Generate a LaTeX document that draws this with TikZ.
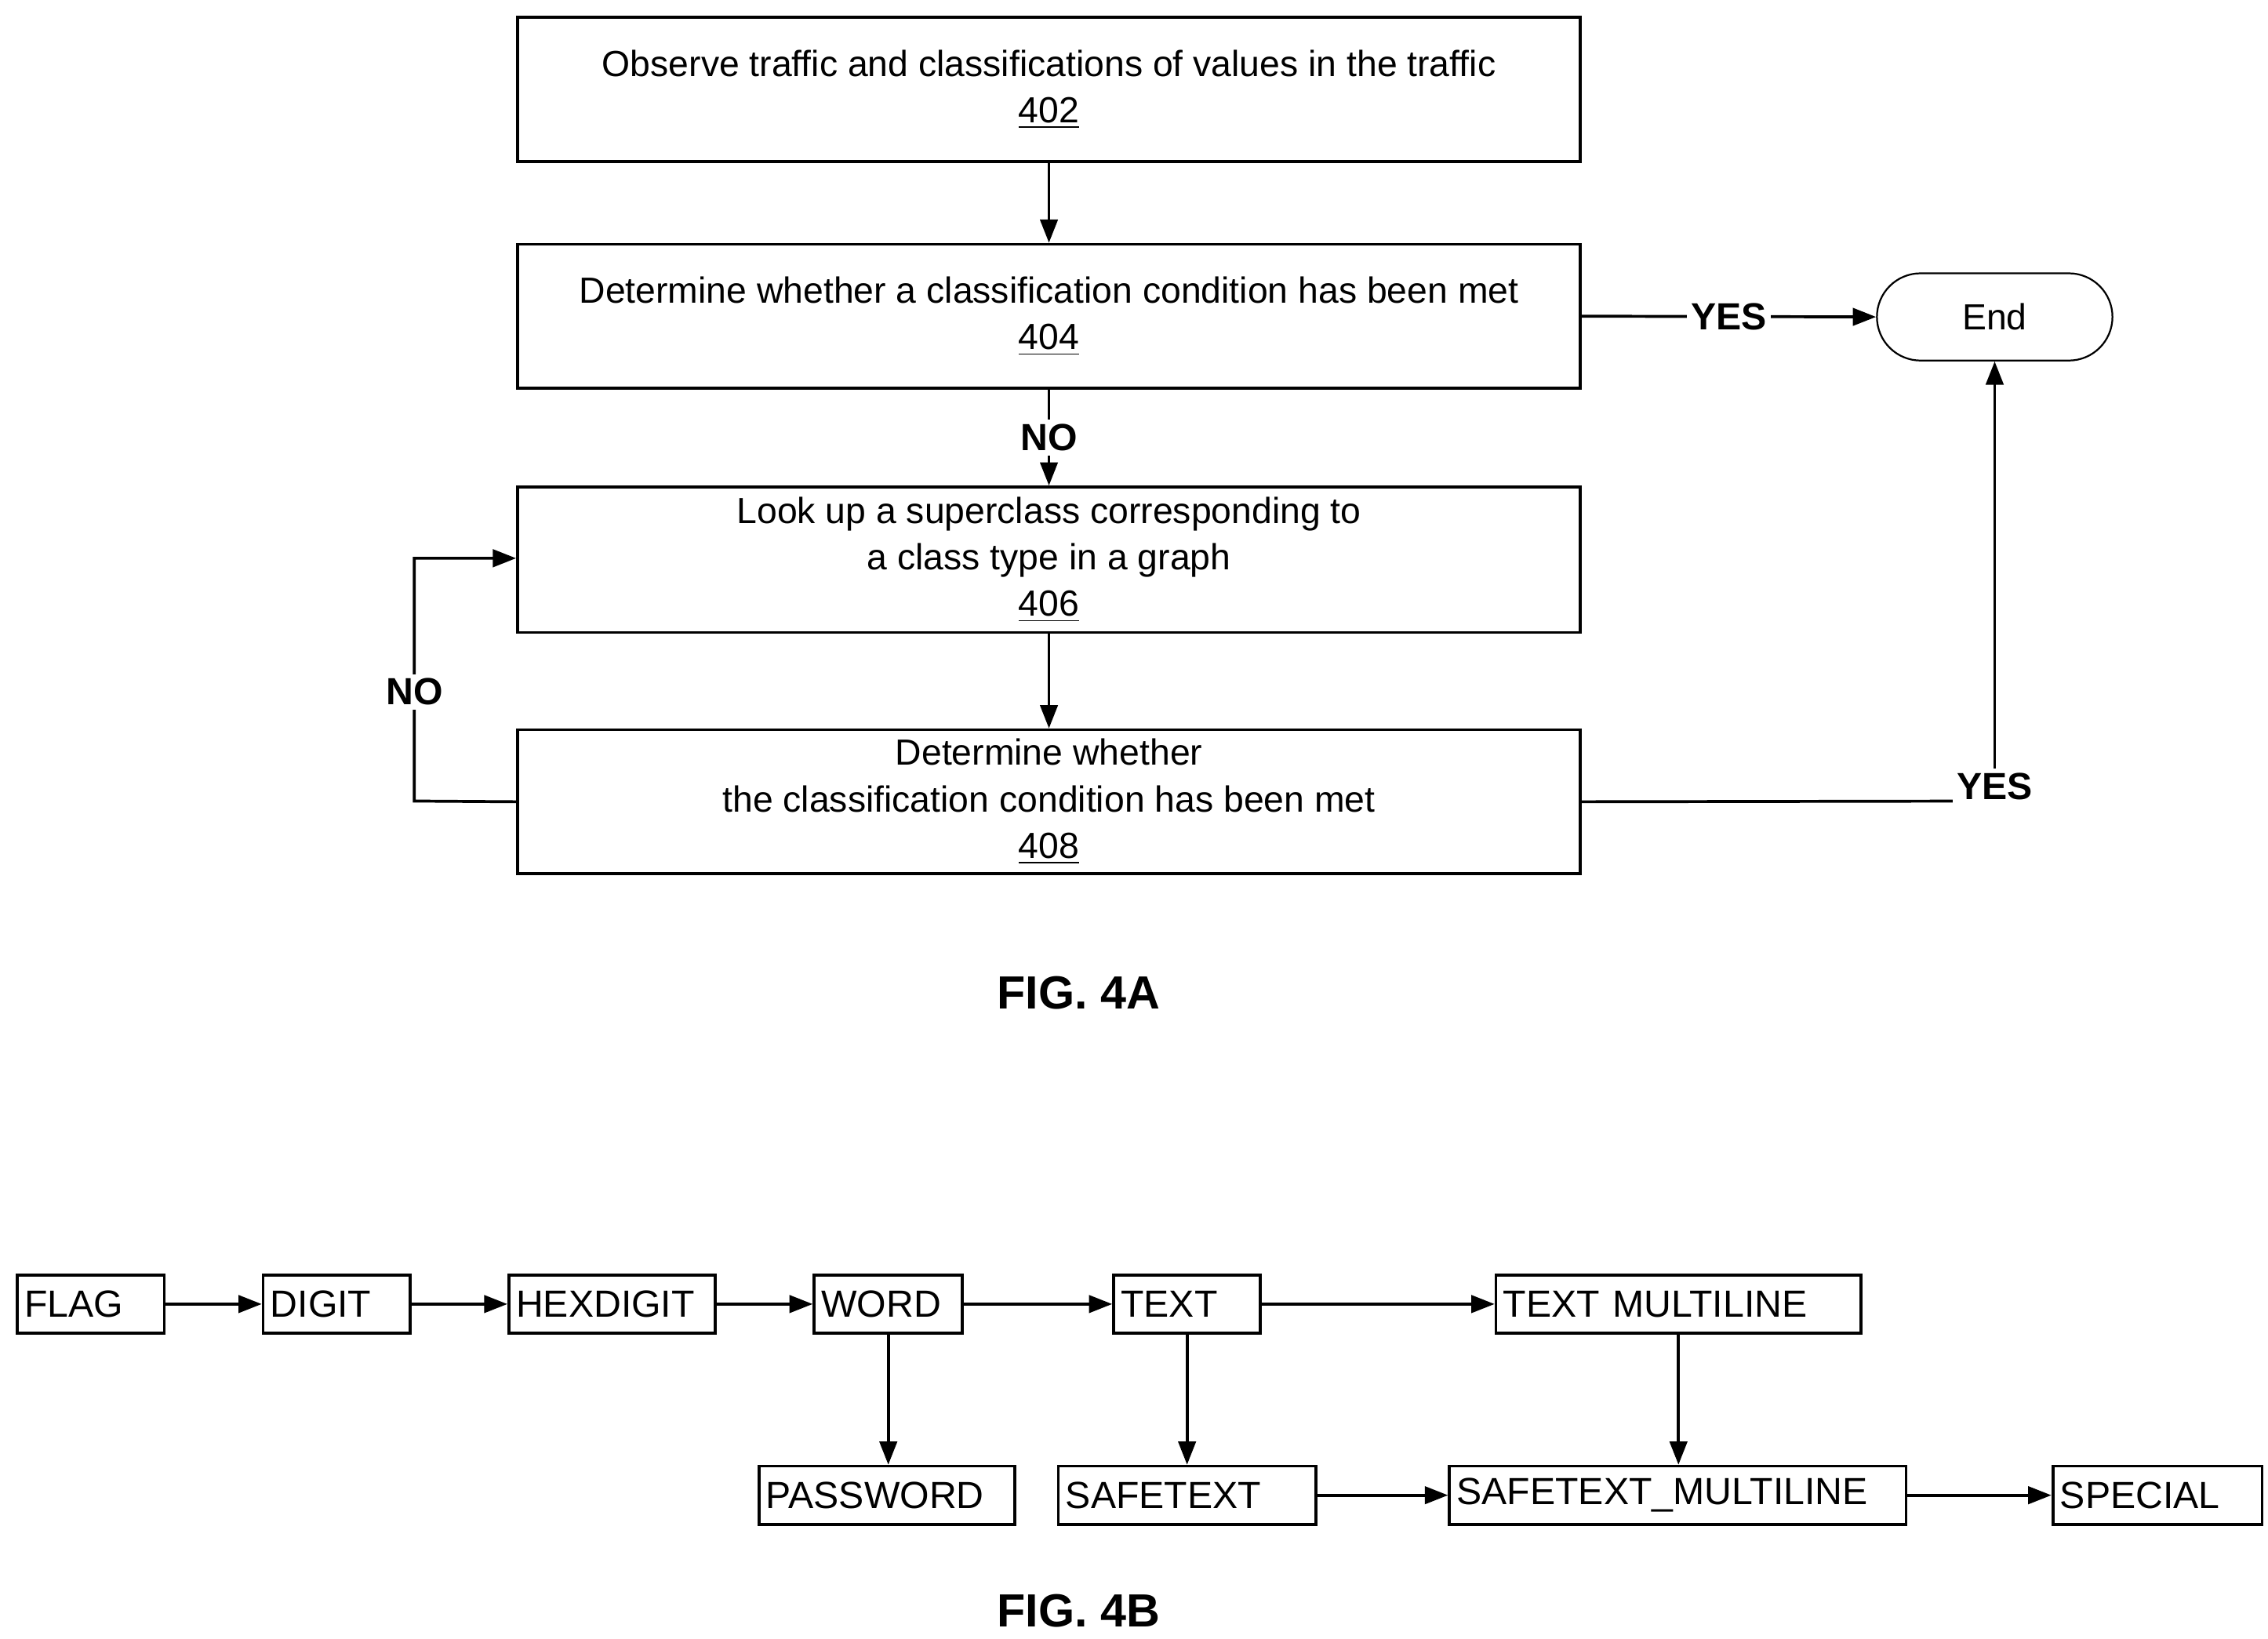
\documentclass[tikz,border=0pt]{standalone}
\usepackage{fontspec}
\setmainfont{Liberation Sans}
\usetikzlibrary{arrows.meta}
\begin{document}
\begin{tikzpicture}[x=0.5pt,y=-0.5pt,
  every node/.style={font=\fontsize{12.5}{16}\selectfont},
  box/.style={draw,line width=1pt,minimum height=49.5pt,minimum width=365.5pt,align=center,inner sep=2pt},
  sb/.style={draw,line width=1pt,minimum height=20pt,align=left,inner sep=2.5pt,font=\fontsize{13}{15}\selectfont},
  lab/.style={fill=white,font=\bfseries\fontsize{13}{15}\selectfont,inner sep=1.5pt},
  arr/.style={line width=1pt,-{Triangle[length=8pt,width=6pt]}},
  ln/.style={line width=1pt}]
\useasboundingbox (0,0) rectangle (1560,1127);
\node[box] (b402) at (721.5,61.5) {Observe traffic and classifications of values in the traffic\\\underline{402}};
\node[box] (b404) at (721.5,217.5) {Determine whether a classification condition has been met\\\underline{404}};
\node[box,minimum height=50pt] (b406) at (721.5,385) {Look up a superclass corresponding to\\a class type in a graph\\\underline{406}};
\node[box] (b408) at (721.5,551.5) {Determine whether\\the classification condition has been met\\\underline{408}};
\node[draw,line width=0.6pt,rounded corners=15pt,minimum width=81pt,minimum height=30pt] (end) at (1372,218) {End};
\draw[arr] (b402) -- (b404);
\draw[arr] (b404) -- node[lab]{NO} (b406);
\draw[arr] (b406) -- (b408);
\draw[arr] (b404.east) -- node[lab,pos=0.5]{YES} (end.west);
\coordinate (c1) at (1372,551);
\draw[ln] (b408.east) -- (c1);
\draw[arr] (c1) -- (end.south);
\node[lab] (y2) at (1372,541) {YES};
\coordinate (l1) at (285,551);
\coordinate (l2) at (285,384);
\draw[arr] (b408.west) -- (l1) -- node[lab,pos=0.45]{NO} (l2) -- (b406.west |- l2);
\node[font=\bfseries\fontsize{16}{19}\selectfont] (f4a) at (742,683) {FIG. 4A};

\node[sb,text width=45.5pt] (flag) at (62.5,897) {FLAG};
\node[sb,text width=45.5pt] (digit) at (231.5,897) {DIGIT};
\node[sb,text width=66pt] (hex) at (421,897) {HEXDIGIT};
\node[sb,text width=46pt] (word) at (611,897) {WORD};
\node[sb,text width=45.5pt] (text) at (816.5,897) {TEXT};
\node[sb,text width=120.5pt] (tml) at (1154.5,897) {TEXT MULTILINE};
\node[sb,text width=83pt] (pw) at (610,1028.5) {PASSWORD};
\node[sb,text width=83.5pt] (st) at (816.5,1028.5) {SAFETEXT};
\node[sb,text width=152pt] (stml) at (1154,1028.5) {SAFETEXT\_MULTILINE};
\node[sb,text width=67pt] (sp) at (1484,1028.5) {SPECIAL};
\draw[arr] (flag) -- (digit);
\draw[arr] (digit) -- (hex);
\draw[arr] (hex) -- (word);
\draw[arr] (word) -- (text);
\draw[arr] (text) -- (tml);
\draw[arr] (word.south) -- (word.south |- pw.north);
\draw[arr] (text.south) -- (text.south |- st.north);
\draw[arr] (tml.south) -- (tml.south |- stml.north);
\draw[arr] (st) -- (stml);
\draw[arr] (stml) -- (sp);
\node[font=\bfseries\fontsize{16}{19}\selectfont] (f4b) at (742,1108) {FIG. 4B};
\end{tikzpicture}
\end{document}
